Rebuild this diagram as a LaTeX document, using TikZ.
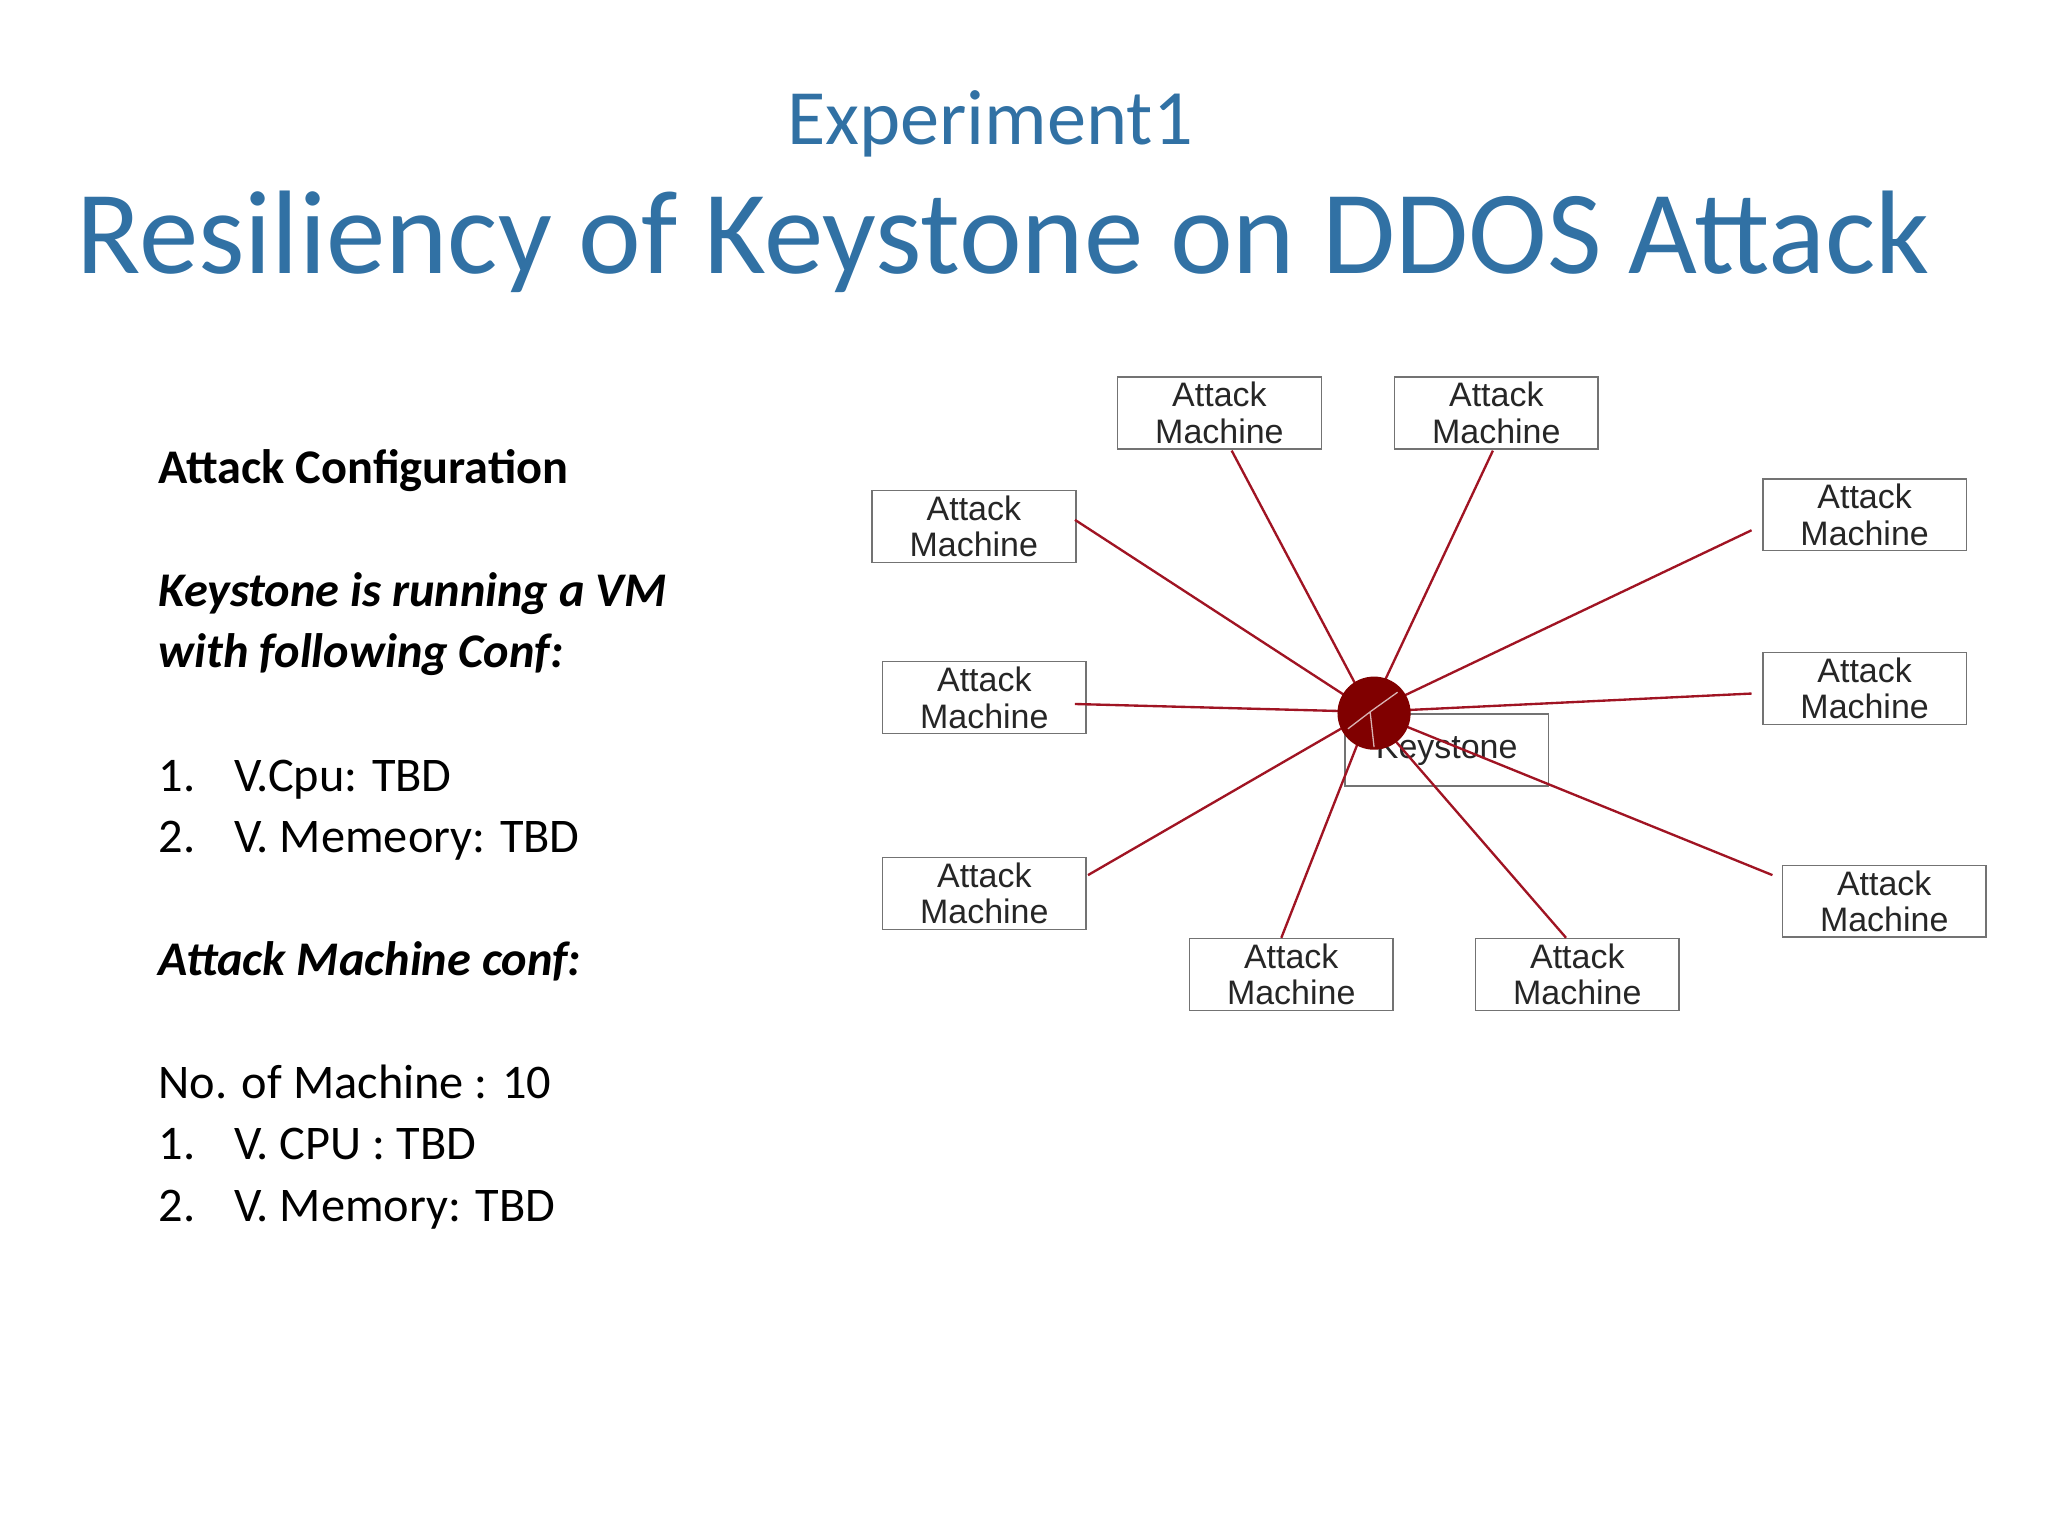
\documentclass[tikz,border=0pt]{standalone}
\usepackage{fontspec}
\setmainfont{Carlito}
\newfontfamily\arialf{Liberation Sans}
\definecolor{ttl}{RGB}{49,113,164}
\definecolor{lnk}{RGB}{160,20,35}
\definecolor{blob}{RGB}{128,0,0}
\begin{document}
\begin{tikzpicture}[x=0.5pt,y=-0.5pt,
  mbox/.style={draw=black!55,line width=0.6pt,minimum width=78pt,minimum height=27.5pt,inner sep=0pt,font=\arialf\fontsize{13}{14}\selectfont,align=center,anchor=north west,text=black!85},
  lk/.style={draw=lnk,line width=0.9pt},
  lt/.style={anchor=base west,font=\fontsize{18.5}{20}\selectfont,inner sep=0pt}]
\useasboundingbox (0,0) rectangle (1568,1176);
\node[text=ttl,font=\fontsize{30}{32}\selectfont] (t1) at (758,95) {Experiment1};
\node[text=ttl,font=\fontsize{45.5}{48}\selectfont] (t2) at (768,185) {Resiliency of Keystone on DDOS Attack};
\node[lt,font=\fontsize{18.5}{20}\selectfont\bfseries] (l1) at (121,370) {Attack Configuration};
\node[lt,font=\fontsize{18.5}{20}\selectfont\bfseries\itshape] (l2) at (121,464) {Keystone is running a VM};
\node[lt,font=\fontsize{18.5}{20}\selectfont\bfseries\itshape] (l3) at (121,511) {with following Conf:};
\node[lt] (l4) at (121,606) {1.};\node[lt] (l4b) at (179,606) {V.Cpu: TBD};
\node[lt] (l5) at (121,653) {2.};\node[lt] (l5b) at (179,653) {V. Memeory: TBD};
\node[lt,font=\fontsize{18.5}{20}\selectfont\bfseries\itshape] (l6) at (121,747) {Attack Machine conf:};
\node[lt] (l7) at (121,841) {No. of Machine : 10};
\node[lt] (l8) at (121,888) {1.};\node[lt] (l8b) at (179,888) {V. CPU : TBD};
\node[lt] (l9) at (121,935) {2.};\node[lt] (l9b) at (179,935) {V. Memory: TBD};
% boxes
\node[mbox] (m1) at (855,288) {Attack\\Machine};
\node[mbox] (m2) at (1067,288) {Attack\\Machine};
\node[mbox] (m3) at (667,375) {Attack\\Machine};
\node[mbox] (m4) at (1349,366) {Attack\\Machine};
\node[mbox] (m5) at (675,506) {Attack\\Machine};
\node[mbox] (m6) at (1349,499) {Attack\\Machine};
\node[mbox] (m7) at (675,656) {Attack\\Machine};
\node[mbox] (m8) at (910,718) {Attack\\Machine};
\node[mbox] (m9) at (1129,718) {Attack\\Machine};
\node[mbox] (m10) at (1364,662) {Attack\\Machine};
\node[mbox] (ks) at (1029,546) {Keystone};
\coordinate (c) at (1049,545);
\coordinate (e1) at (943,345);\coordinate (e2) at (1143,345);
\coordinate (e3) at (823,398);\coordinate (e4) at (1341,406);
\coordinate (e5) at (823,539);\coordinate (e6) at (1341,531);
\coordinate (e7) at (833,670);\coordinate (e8) at (981,718);
\coordinate (e9) at (1199,718);\coordinate (e10) at (1357,670);
\foreach \i in {1,...,10}{\draw[lk] (e\i) -- (c);}
\fill[blob] (1052,546) circle (14pt);
\draw[white!70!blob,line width=0.5pt] (c) -- (1070,530) (c) -- (1032,558) (c)--(1052,572);
\end{tikzpicture}
\end{document}
